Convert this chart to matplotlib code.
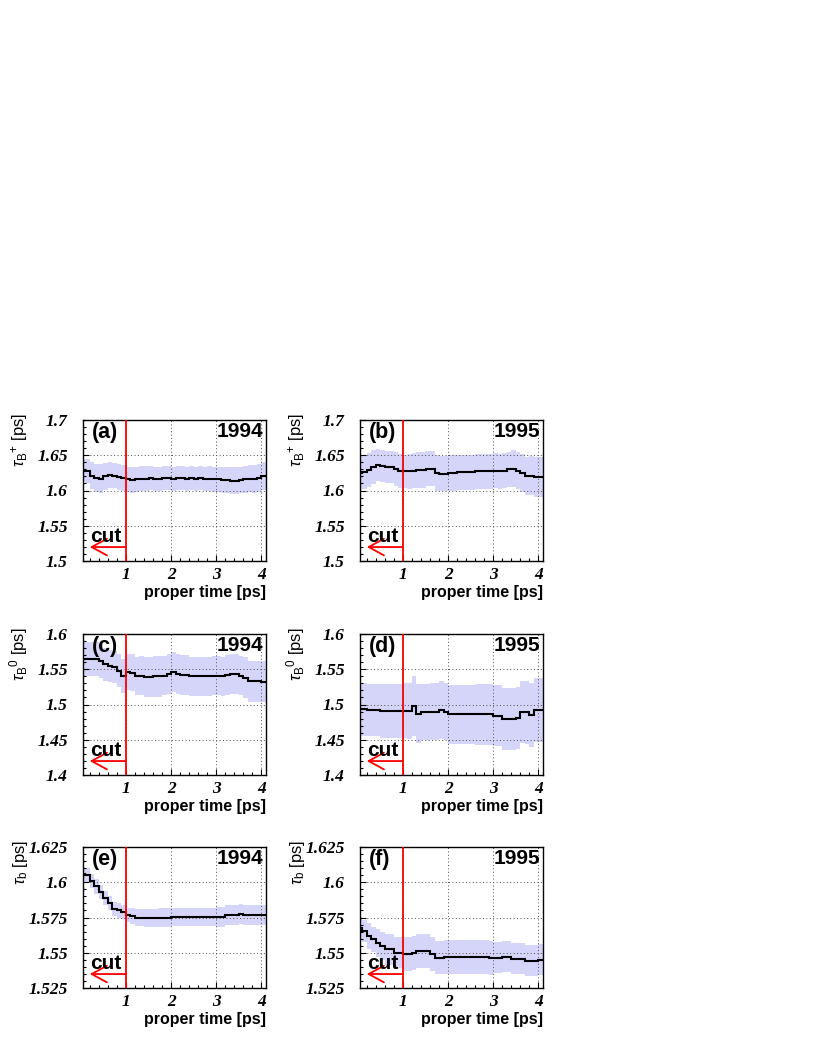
import matplotlib.pyplot as plt
import numpy as np
from matplotlib.ticker import MultipleLocator, FormatStrFormatter

plt.rcParams['font.family'] = ['Liberation Sans', 'DejaVu Sans']
plt.rcParams['mathtext.fontset'] = 'custom'
plt.rcParams['mathtext.rm'] = 'Liberation Sans'
plt.rcParams['mathtext.it'] = 'Liberation Sans:italic'
plt.rcParams['mathtext.bf'] = 'Liberation Sans:bold'

# bin edges of the proper time histograms [ps]
bin_edges = np.linspace(0.0, 4.1, 42)

# (a) tau_B+ 1994
a_val = [1.629, 1.628, 1.621, 1.618, 1.617, 1.620, 1.622, 1.621, 1.619, 1.618,
         1.616, 1.615, 1.616, 1.617, 1.617, 1.618, 1.617, 1.617, 1.618, 1.618,
         1.617, 1.618, 1.618, 1.617, 1.618, 1.617, 1.618, 1.617, 1.617, 1.616,
         1.616, 1.615, 1.615, 1.614, 1.614, 1.615, 1.616, 1.617, 1.616, 1.618,
         1.621]
a_err = [0.016, 0.017, 0.019, 0.020, 0.020, 0.019, 0.018, 0.018, 0.018, 0.018,
         0.018, 0.018, 0.018, 0.018, 0.018, 0.017, 0.017, 0.017, 0.017, 0.017,
         0.017, 0.017, 0.017, 0.017, 0.017, 0.017, 0.017, 0.017, 0.018, 0.018,
         0.018, 0.018, 0.019, 0.019, 0.019, 0.019, 0.019, 0.019, 0.020, 0.020,
         0.020]

# (b) tau_B+ 1995
b_val = [1.625, 1.626, 1.629, 1.633, 1.636, 1.635, 1.633, 1.633, 1.630, 1.628,
         1.627, 1.627, 1.628, 1.629, 1.629, 1.631, 1.631, 1.625, 1.624, 1.624,
         1.625, 1.625, 1.626, 1.626, 1.626, 1.626, 1.627, 1.627, 1.627, 1.627,
         1.628, 1.627, 1.628, 1.630, 1.631, 1.628, 1.625, 1.621, 1.621, 1.619,
         1.619]
b_err = [0.024, 0.024, 0.024, 0.024, 0.023, 0.023, 0.023, 0.023, 0.024, 0.024,
         0.024, 0.025, 0.025, 0.025, 0.025, 0.025, 0.025, 0.025, 0.025, 0.025,
         0.025, 0.025, 0.025, 0.025, 0.025, 0.025, 0.025, 0.025, 0.025, 0.025,
         0.025, 0.025, 0.025, 0.025, 0.026, 0.026, 0.027, 0.027, 0.028, 0.028,
         0.028]

# (c) tau_B0 1994
c_val = [1.565, 1.564, 1.564, 1.565, 1.561, 1.557, 1.555, 1.553, 1.548, 1.541,
         1.546, 1.545, 1.541, 1.541, 1.539, 1.539, 1.540, 1.540, 1.541, 1.543,
         1.546, 1.543, 1.542, 1.542, 1.540, 1.540, 1.540, 1.540, 1.540, 1.541,
         1.541, 1.540, 1.542, 1.543, 1.543, 1.541, 1.538, 1.533, 1.533, 1.533,
         1.532]
c_err = [0.024, 0.024, 0.024, 0.024, 0.023, 0.023, 0.023, 0.023, 0.023, 0.024,
         0.025, 0.026, 0.027, 0.028, 0.029, 0.029, 0.029, 0.029, 0.028, 0.028,
         0.028, 0.028, 0.028, 0.028, 0.028, 0.028, 0.028, 0.028, 0.028, 0.028,
         0.028, 0.028, 0.028, 0.028, 0.028, 0.028, 0.029, 0.029, 0.029, 0.029,
         0.029]

# (d) tau_B0 1995
d_val = [1.493, 1.493, 1.492, 1.492, 1.492, 1.491, 1.491, 1.491, 1.491, 1.491,
         1.491, 1.491, 1.498, 1.487, 1.489, 1.489, 1.490, 1.490, 1.492, 1.490,
         1.486, 1.486, 1.486, 1.486, 1.486, 1.486, 1.486, 1.486, 1.486, 1.486,
         1.484, 1.484, 1.480, 1.480, 1.480, 1.481, 1.489, 1.489, 1.485, 1.492,
         1.492]
d_err = [0.037, 0.037, 0.037, 0.037, 0.037, 0.038, 0.038, 0.038, 0.038, 0.038,
         0.039, 0.040, 0.042, 0.042, 0.040, 0.040, 0.040, 0.041, 0.041, 0.041,
         0.042, 0.042, 0.042, 0.042, 0.042, 0.042, 0.043, 0.043, 0.043, 0.043,
         0.043, 0.043, 0.044, 0.044, 0.044, 0.044, 0.044, 0.045, 0.045, 0.045,
         0.045]

# (e) tau_b 1994
e_val = [1.606, 1.605, 1.601, 1.597, 1.593, 1.589, 1.585, 1.581, 1.580, 1.579,
         1.577, 1.576, 1.575, 1.5748, 1.5748, 1.5748, 1.5748, 1.575, 1.575, 1.575,
         1.5755, 1.5755, 1.5755, 1.5755, 1.5755, 1.5755, 1.5755, 1.5755, 1.5755, 1.5755,
         1.5755, 1.5755, 1.577, 1.577, 1.577, 1.5775, 1.577, 1.577, 1.577, 1.577,
         1.577]
e_err = [0.005, 0.005, 0.005, 0.005, 0.005, 0.005, 0.005, 0.005, 0.005, 0.005,
         0.005, 0.0055, 0.006, 0.006, 0.0065, 0.0065, 0.0065, 0.0065, 0.0065, 0.0065,
         0.0065, 0.0065, 0.0065, 0.0065, 0.0065, 0.0065, 0.0065, 0.0065, 0.0065, 0.0065,
         0.007, 0.007, 0.007, 0.007, 0.007, 0.007, 0.007, 0.007, 0.007, 0.007,
         0.007]

# (f) tau_b 1995
f_val = [1.5677, 1.5655, 1.5618, 1.5594, 1.557, 1.555, 1.5526, 1.5526, 1.550, 1.550,
         1.549, 1.549, 1.550, 1.551, 1.5515, 1.551, 1.549, 1.5466, 1.5466, 1.547,
         1.547, 1.547, 1.547, 1.547, 1.547, 1.547, 1.547, 1.547, 1.547, 1.5465,
         1.5465, 1.5465, 1.547, 1.547, 1.5456, 1.5456, 1.5456, 1.5443, 1.5443, 1.5443,
         1.545]
f_err = [0.008, 0.008, 0.009, 0.009, 0.010, 0.010, 0.011, 0.011, 0.011, 0.011,
         0.012, 0.012, 0.012, 0.012, 0.012, 0.012, 0.012, 0.012, 0.012, 0.012,
         0.012, 0.012, 0.012, 0.012, 0.012, 0.012, 0.012, 0.012, 0.012, 0.012,
         0.011, 0.011, 0.011, 0.011, 0.011, 0.011, 0.011, 0.011, 0.011, 0.011,
         0.011]

tags = ['(a)', '(b)', '(c)', '(d)', '(e)', '(f)']
years = ['1994', '1995', '1994', '1995', '1994', '1995']
ylabels = [r'$\tau_{\mathrm{B}}{}^{+}$ [ps]', r'$\tau_{\mathrm{B}}{}^{+}$ [ps]',
           r'$\tau_{\mathrm{B}}{}^{0}$ [ps]', r'$\tau_{\mathrm{B}}{}^{0}$ [ps]',
           r'$\tau_{\mathrm{b}}$ [ps]', r'$\tau_{\mathrm{b}}$ [ps]']
yranges = [(1.5, 1.7), (1.5, 1.7), (1.4, 1.6), (1.4, 1.6), (1.525, 1.625), (1.525, 1.625)]
cut_at = 1.0

band_color = '#d5d5fa'
tick_font = dict(family='Liberation Serif', weight='bold', style='italic', size=12.5)


def draw(ax, val, err, yr, ylab, tag, year):
    val = np.array(val)
    err = np.array(err)
    ax.stairs(val + err, bin_edges, baseline=val - err, fill=True,
              color=band_color, lw=0, zorder=1)
    ax.stairs(val, bin_edges, baseline=None, color='black', lw=1.5, zorder=3)
    ax.axvline(cut_at, color='red', lw=1.3, zorder=4)
    ax.annotate('', xy=(0.2, 0.099), xycoords=('data', 'axes fraction'),
                xytext=(cut_at, 0.099), textcoords=('data', 'axes fraction'),
                arrowprops=dict(arrowstyle='->,head_length=1.1,head_width=0.6',
                                color='red', lw=1.3, shrinkA=0, shrinkB=0),
                zorder=4)
    ax.text(0.038, 0.135, 'cut', transform=ax.transAxes, fontsize=15,
            fontweight='bold', va='baseline', ha='left', zorder=5)
    ax.text(0.05, 0.985, tag, transform=ax.transAxes, fontsize=15.5,
            fontweight='bold', va='top', ha='left', zorder=5)
    ax.text(0.984, 0.985, year, transform=ax.transAxes, fontsize=15,
            fontweight='bold', va='top', ha='right', zorder=5)

    ax.set_xlim(0.05, 4.1)
    ax.set_ylim(*yr)
    ax.xaxis.set_major_locator(MultipleLocator(1))
    ax.xaxis.set_minor_locator(MultipleLocator(0.2))
    if yr[1] - yr[0] > 0.15:
        ax.yaxis.set_major_locator(MultipleLocator(0.05))
        ax.yaxis.set_minor_locator(MultipleLocator(0.01))
    else:
        ax.yaxis.set_major_locator(MultipleLocator(0.025))
        ax.yaxis.set_minor_locator(MultipleLocator(0.005))
    ax.xaxis.set_major_formatter(FormatStrFormatter('%g'))
    ax.yaxis.set_major_formatter(FormatStrFormatter('%g'))
    ax.tick_params(which='both', direction='in', top=False, right=False, width=0.8)
    ax.tick_params(which='major', length=4)
    ax.tick_params(which='minor', length=2)
    ax.tick_params(axis='y', pad=11)
    ax.tick_params(axis='x', pad=4)
    for lab in ax.get_xticklabels() + ax.get_yticklabels():
        lab.set(**tick_font)
    ax.grid(True, which='major', ls=(0, (1, 2.5)), color='0.3', lw=0.7)
    for sp in ax.spines.values():
        sp.set_linewidth(1.0)

    ax.set_xlabel('proper time [ps]', fontsize=11.5, fontweight='bold', loc='right')
    ax.xaxis.set_label_coords(1.0, -0.172)
    ax.set_ylabel(ylab, fontsize=12, loc='top')
    ax.yaxis.set_label_coords(-0.29, 1.05)


fig = plt.figure(figsize=(8.17, 10.58), dpi=100)
W, H = 817.0, 1058.0
col_left = [83, 360]
row_bottom = [561, 775, 988]
ax_w, ax_h = 183, 141

series = [(a_val, a_err), (b_val, b_err), (c_val, c_err),
          (d_val, d_err), (e_val, e_err), (f_val, f_err)]

for i, (val, err) in enumerate(series):
    r, c = divmod(i, 2)
    ax = fig.add_axes([col_left[c] / W, 1 - row_bottom[r] / H, ax_w / W, ax_h / H])
    draw(ax, val, err, yranges[i], ylabels[i], tags[i], years[i])

fig.savefig('out.png', dpi=100)
